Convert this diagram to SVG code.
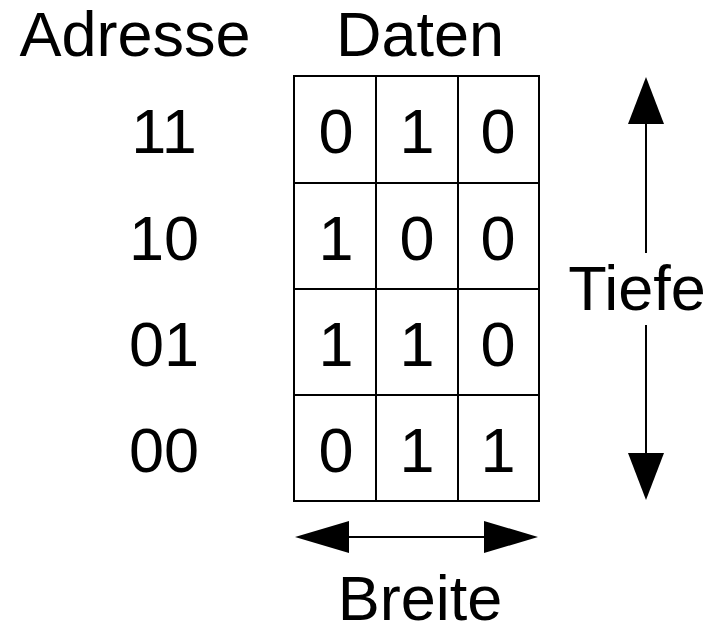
<svg xmlns="http://www.w3.org/2000/svg" width="721" height="626" viewBox="0 0 721 626">
<style>
text{font-family:"Liberation Sans",Arial,sans-serif;font-size:63px;fill:#000;text-anchor:middle}
.grid{fill:none;stroke:#000;stroke-width:2}
.ln{stroke:#000;stroke-width:2;fill:none}
.hd{fill:#000;stroke:none}
</style>
<rect width="721" height="626" fill="#fff"/>
<g id="headers">
<text x="135" y="56">Adresse</text>
<text x="420" y="56">Daten</text>
</g>
<g id="memory">
<rect class="grid" x="294" y="76" width="245" height="425"/>
<path class="grid" d="M376,76V501M458,76V501M294,183H539M294,289H539M294,395H539"/>
</g>
<g id="row11">
<text x="164" y="153">11</text>
<text x="336" y="153">0</text><text x="417" y="153">1</text><text x="498" y="153">0</text>
</g>
<g id="row10">
<text x="164" y="260">10</text>
<text x="336" y="260">1</text><text x="417" y="260">0</text><text x="498" y="260">0</text>
</g>
<g id="row01">
<text x="164" y="366">01</text>
<text x="336" y="366">1</text><text x="417" y="366">1</text><text x="498" y="366">0</text>
</g>
<g id="row00">
<text x="164" y="472">00</text>
<text x="336" y="472">0</text><text x="417" y="472">1</text><text x="498" y="472">1</text>
</g>
<g id="connectors">
<line class="ln" x1="646" y1="120" x2="646" y2="253"/>
<line class="ln" x1="646" y1="325" x2="646" y2="457"/>
<polygon class="hd" points="646,77 628,124 664,124"/>
<polygon class="hd" points="646,500 628,453 664,453"/>
<line class="ln" x1="345" y1="537" x2="488" y2="537"/>
<polygon class="hd" points="295,537 349,521 349,553"/>
<polygon class="hd" points="538,537 484,521 484,553"/>
</g>
<g id="labels">
<text x="637" y="310">Tiefe</text>
<text x="420" y="620">Breite</text>
</g>
</svg>
